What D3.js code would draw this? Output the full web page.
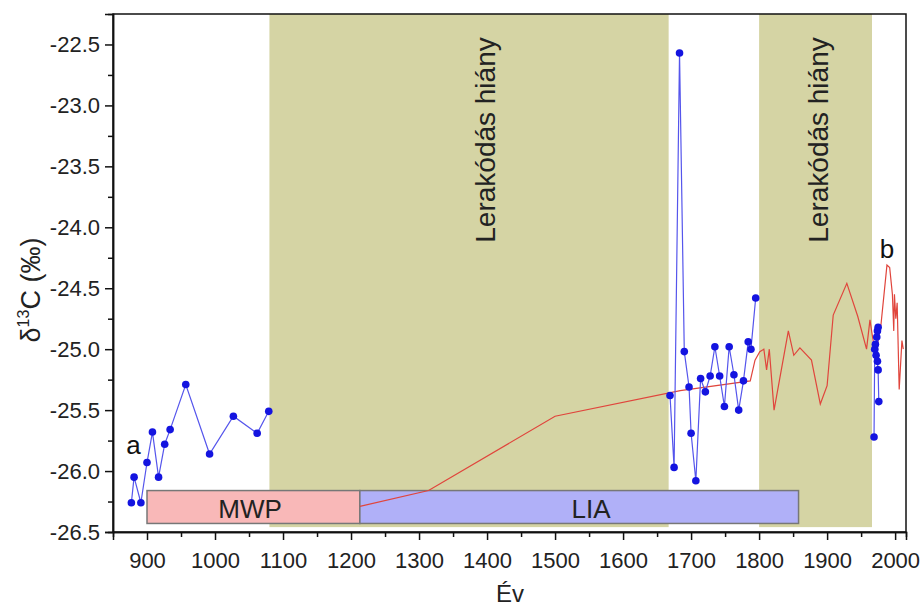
<!DOCTYPE html>
<html>
<head>
<meta charset="utf-8">
<script src="https://d3js.org/d3.v7.min.js"></script>
<style>
  body { margin: 0; background: #fff; }
  text { font-family: "Liberation Sans", Arial, sans-serif; }
</style>
</head>
<body>
<div id="chart"></div>
<script>
// Series a: early blue points
var yearsA = [877, 881, 891, 900, 908, 917, 926, 934, 957, 992, 1027, 1062, 1079];
var valuesA = [-26.26, -26.05, -26.26, -25.93, -25.68, -26.05, -25.78, -25.66, -25.29, -25.86, -25.55, -25.69, -25.51];
// Series a: later blue points
var yearsB = [1669, 1675, 1683, 1690, 1697, 1700, 1707, 1714, 1721, 1728, 1735, 1742, 1749, 1756, 1763, 1770, 1777, 1784, 1788, 1795];
var valuesB = [-25.38, -25.97, -22.57, -25.02, -25.31, -25.69, -26.08, -25.24, -25.35, -25.22, -24.98, -25.22, -25.47, -24.98, -25.21, -25.50, -25.26, -24.94, -25.00, -24.58];
// Series b: recent blue cluster
var yearsC = [1969, 1970, 1971, 1972, 1973, 1974, 1975, 1974, 1975, 1976];
var valuesC = [-25.72, -25.00, -24.96, -25.05, -24.90, -24.85, -24.82, -25.10, -25.17, -25.43];
// Red curve
var yearsR = [1213, 1314, 1500, 1684, 1787, 1794, 1801, 1807, 1811, 1815, 1822, 1843, 1851, 1860, 1877, 1890, 1900, 1909, 1929, 1945, 1958, 1963, 1966, 1971, 1979, 1988, 1992, 1996, 1998, 1999, 2001, 2003, 2006, 2010, 2012];
var valuesR = [-26.29, -26.16, -25.55, -25.34, -25.26, -25.09, -25.02, -25.00, -25.17, -25.00, -25.50, -24.85, -25.05, -24.99, -25.09, -25.45, -25.30, -24.72, -24.46, -24.73, -25.00, -24.76, -24.87, -25.05, -24.81, -24.31, -24.33, -24.55, -24.85, -24.55, -24.75, -24.62, -25.33, -24.93, -25.00];

// Hiatus bands and climate periods
var gapStarts = [1080, 1800];
var gapEnds = [1667, 1966];
var gapLabelYears = [1412, 1902];
var gapLabel = "Lerakódás hiány";
var periodNames = ["MWP", "LIA"];
var periodStarts = [900, 1213];
var periodEnds = [1213, 1858];

var xMajor = [900, 1000, 1100, 1200, 1300, 1400, 1500, 1600, 1700, 1800, 1900, 2000];
var xMinor = [950, 1050, 1150, 1250, 1350, 1450, 1550, 1650, 1750, 1850, 1950];
var yMajor = [-26.5, -26.0, -25.5, -25.0, -24.5, -24.0, -23.5, -23.0, -22.5];
var yMinor = [-26.25, -25.75, -25.25, -24.75, -24.25, -23.75, -23.25, -22.75];

var width = 920, height = 610;
var plotLeft = 113, plotRight = 906, plotTop = 14, plotBottom = 532;

var svg = d3.select("#chart").append("svg")
    .attr("width", width)
    .attr("height", height);

var x = d3.scaleLinear().domain([850, 2016]).range([plotLeft, plotRight]);
var y = d3.scaleLinear().domain([-26.5, -22.25]).range([plotBottom, plotTop]);

// khaki bands
gapStarts.forEach(function(s, i) {
    svg.append("rect")
        .attr("x", x(s))
        .attr("y", plotTop)
        .attr("width", x(gapEnds[i]) - x(s))
        .attr("height", y(-26.46) - plotTop)
        .attr("fill", "#d5d4a4");
    svg.append("text")
        .attr("transform", "translate(" + x(gapLabelYears[i]) + "," + 140 + ") rotate(-90)")
        .attr("text-anchor", "middle")
        .attr("font-size", 28)
        .attr("fill", "#222")
        .text(gapLabel);
});

// MWP / LIA boxes
var boxColors = ["#f9b8b8", "#b0b0f8"];
periodNames.forEach(function(n, i) {
    svg.append("rect")
        .attr("x", x(periodStarts[i]))
        .attr("y", y(-26.16))
        .attr("width", x(periodEnds[i]) - x(periodStarts[i]))
        .attr("height", y(-26.43) - y(-26.16))
        .attr("fill", boxColors[i])
        .attr("stroke", "#777")
        .attr("stroke-width", 1.5);
});
svg.append("text").attr("x", 250).attr("y", 518).attr("text-anchor", "middle")
    .attr("font-size", 26).attr("fill", "#222").text(periodNames[0]);
svg.append("text").attr("x", 591).attr("y", 518).attr("text-anchor", "middle")
    .attr("font-size", 26).attr("fill", "#222").text(periodNames[1]);

// red curve
var line = d3.line()
    .x(function(d) { return x(d[0]); })
    .y(function(d) { return y(d[1]); });
svg.append("path")
    .datum(d3.zip(yearsR, valuesR))
    .attr("fill", "none")
    .attr("stroke", "#e0453c")
    .attr("stroke-width", 1.2)
    .attr("d", line);

// blue series with markers
[[yearsA, valuesA], [yearsB, valuesB], [yearsC, valuesC]].forEach(function(s) {
    var pts = d3.zip(s[0], s[1]);
    svg.append("path")
        .datum(pts)
        .attr("fill", "none")
        .attr("stroke", "#5555ec")
        .attr("stroke-width", 1.2)
        .attr("d", line);
    svg.selectAll(null)
        .data(pts)
        .enter()
        .append("circle")
        .attr("cx", function(d) { return x(d[0]); })
        .attr("cy", function(d) { return y(d[1]); })
        .attr("r", 3.8)
        .attr("fill", "#1414e0");
});

// frame
svg.append("rect")
    .attr("x", plotLeft).attr("y", plotTop)
    .attr("width", plotRight - plotLeft).attr("height", plotBottom - plotTop)
    .attr("fill", "none").attr("stroke", "#111").attr("stroke-width", 1.5);

// axes
svg.append("g")
    .attr("transform", "translate(0," + plotBottom + ")")
    .call(d3.axisBottom(x).tickValues(xMajor).tickSize(8).tickPadding(12).tickFormat(function(d) { return d; }));
svg.append("g")
    .attr("transform", "translate(0," + plotBottom + ")")
    .call(d3.axisBottom(x).tickValues(xMinor).tickSize(5).tickFormat(""));
svg.append("g")
    .attr("transform", "translate(" + plotLeft + ",0)")
    .call(d3.axisLeft(y).tickValues(yMajor).tickSize(8).tickPadding(5).tickFormat(function(d) { return d.toFixed(1); }));
svg.append("g")
    .attr("transform", "translate(" + plotLeft + ",0)")
    .call(d3.axisLeft(y).tickValues(yMinor).tickSize(5).tickFormat(""));
svg.selectAll(".domain").attr("stroke", "#111").attr("stroke-width", 1.5);
svg.selectAll(".tick line").attr("stroke", "#111").attr("stroke-width", 1.5);
svg.selectAll(".tick text")
    .attr("font-family", "Liberation Sans, Arial, sans-serif")
    .attr("font-size", 22)
    .attr("fill", "#222");

// series letters
svg.append("text").attr("x", x(880)).attr("y", y(-25.86)).attr("text-anchor", "middle")
    .attr("font-size", 26).attr("fill", "#111").text("a");
svg.append("text").attr("x", x(1988)).attr("y", y(-24.25)).attr("text-anchor", "middle")
    .attr("font-size", 26).attr("fill", "#111").text("b");

// axis titles
var yTitle = svg.append("text")
    .attr("transform", "translate(40," + 290 + ") rotate(-90)")
    .attr("text-anchor", "middle")
    .attr("font-size", 27)
    .attr("fill", "#222");
yTitle.append("tspan").text("δ");
yTitle.append("tspan").attr("font-size", 16).attr("dy", -11).text("13");
yTitle.append("tspan").attr("dy", 11).text("C (‰)");

svg.append("text")
    .attr("x", 510).attr("y", 602)
    .attr("text-anchor", "middle")
    .attr("font-size", 24)
    .attr("fill", "#222")
    .text("Év");
</script>
</body>
</html>
